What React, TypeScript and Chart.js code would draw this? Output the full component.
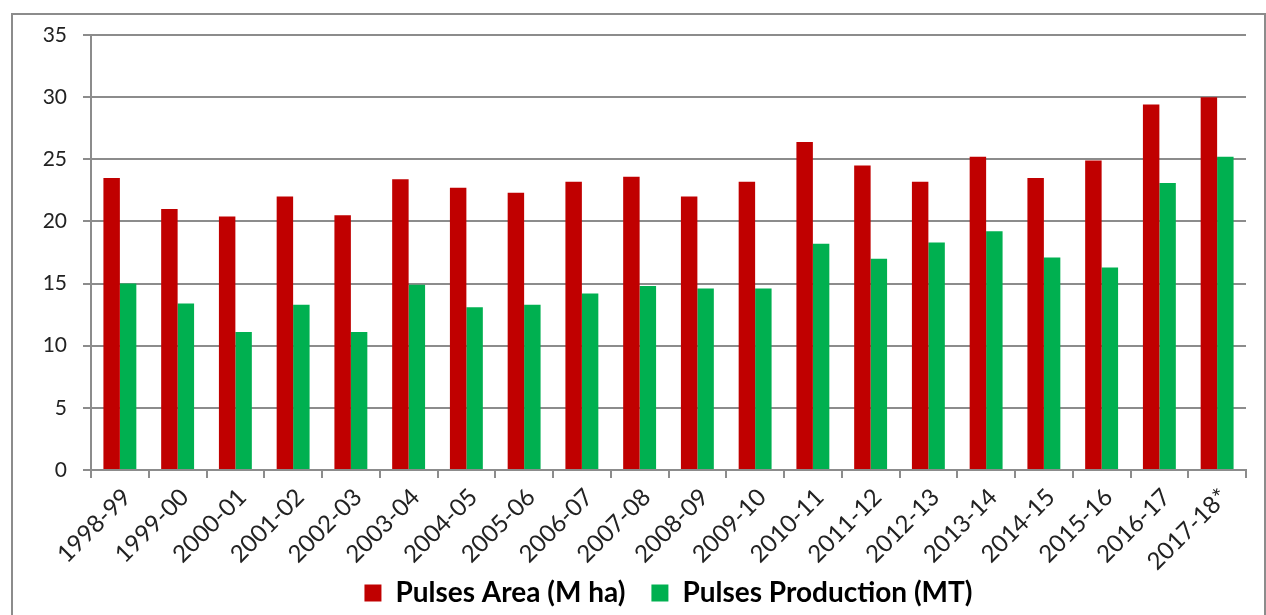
import React, { useEffect, useRef } from "react";
import { Chart, registerables } from "chart.js";

Chart.register(...registerables);

const categories = [
  "1998-99", "1999-00", "2000-01", "2001-02", "2002-03", "2003-04", "2004-05",
  "2005-06", "2006-07", "2007-08", "2008-09", "2009-10", "2010-11", "2011-12",
  "2012-13", "2013-14", "2014-15", "2015-16", "2016-17", "2017-18*",
];
const areaValues = [
  23.5, 21.0, 20.4, 22.0, 20.5, 23.4, 22.7, 22.3, 23.2, 23.6, 22.0, 23.2,
  26.4, 24.5, 23.2, 25.2, 23.5, 24.9, 29.4, 30.0,
];
const productionValues = [
  15.0, 13.4, 11.1, 13.3, 11.1, 14.9, 13.1, 13.3, 14.2, 14.8, 14.6, 14.6,
  18.2, 17.0, 18.3, 19.2, 17.1, 16.3, 23.1, 25.2,
];
const seriesNames = ["Pulses Area (M ha)", "Pulses Production (MT)"];
const yTicks = { min: 0, max: 35, step: 5 };

const FONT = "Lato, 'Open Sans', sans-serif";
const GRID = "#8c8c8c";

const framePlugin = {
  id: "frame",
  beforeDraw(chart: any) {
    const ctx = chart.ctx;
    ctx.save();
    ctx.fillStyle = "#ffffff";
    ctx.fillRect(0, 0, chart.width, chart.height);
    ctx.strokeStyle = GRID;
    ctx.lineWidth = 2;
    ctx.strokeRect(12, 14, 1253, 640);
    ctx.restore();
  },
};

export default function App() {
  const ref = useRef<HTMLCanvasElement>(null);
  useEffect(() => {
    document.body.style.margin = "0";
    const chart = new Chart(ref.current!, {
      type: "bar",
      data: {
        labels: categories,
        datasets: [
          {
            label: seriesNames[0],
            data: areaValues,
            backgroundColor: "#c00000",
            categoryPercentage: 0.57,
            barPercentage: 1,
          },
          {
            label: seriesNames[1],
            data: productionValues,
            backgroundColor: "#00b050",
            categoryPercentage: 0.57,
            barPercentage: 1,
          },
        ],
      },
      plugins: [framePlugin],
      options: {
        responsive: false,
        animation: false,
        layout: { padding: { left: 0, right: 20, top: 35, bottom: -2 } },
        plugins: {
          tooltip: { enabled: false },
          legend: {
            position: "bottom",
            fullSize: false,
            labels: {
              boxWidth: 17,
              boxHeight: 17,
              padding: 26,
              color: "#000",
              font: { family: FONT, size: 28, weight: "bold" },
            },
          },
        },
        scales: {
          x: {
            afterFit(scale: any) {
              scale.height = 83;
              scale._computeLabelArea = () => undefined;
            },
            grid: {
              drawOnChartArea: false,
              drawTicks: true,
              tickLength: 8,
              color: GRID,
              lineWidth: 2,
              offset: true,
            },
            border: { display: true, color: GRID, width: 2 },
            ticks: {
              minRotation: 45,
              maxRotation: 45,
              autoSkip: false,
              padding: 5,
              labelOffset: 7,
              color: "#222",
              font: { family: FONT, size: 24 },
            },
          },
          y: {
            min: yTicks.min,
            max: yTicks.max,
            afterFit(scale: any) {
              scale.width = 91;
            },
            grid: {
              color: GRID,
              lineWidth: 2,
              tickLength: 8,
              drawTicks: true,
            },
            border: { display: true, color: GRID, width: 2 },
            ticks: {
              stepSize: yTicks.step,
              padding: 16,
              color: "#222",
              font: { family: FONT, size: 21 },
            },
          },
        },
      },
    });
    return () => chart.destroy();
  }, []);
  return (
    <div style={{ width: 1266, height: 615 }}>
      <canvas ref={ref} width={1266} height={615} />
    </div>
  );
}
